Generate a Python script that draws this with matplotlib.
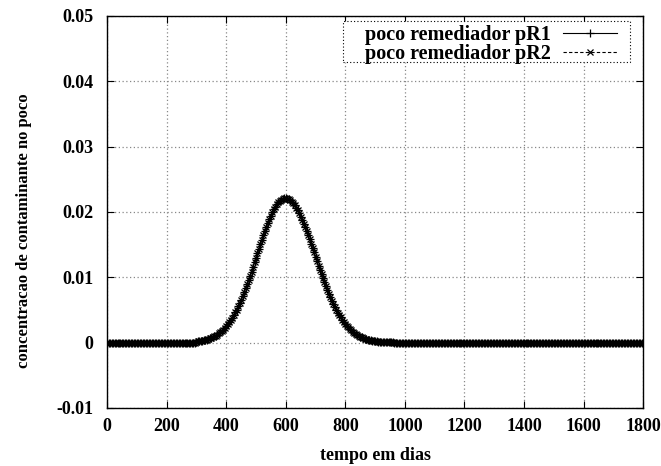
import numpy as np
import matplotlib
matplotlib.use("Agg")
import matplotlib.pyplot as plt
from matplotlib.patches import Rectangle
from matplotlib.ticker import FuncFormatter, MultipleLocator

plt.rcParams["font.family"] = ["Liberation Serif", "DejaVu Serif"]
plt.rcParams["font.weight"] = "bold"

# time axis in days, sampled every 5 days
tempo = np.arange(0, 1805, 5)

# concentration before the plume arrives (0..295 days)
antes = [0.0] * 60
# concentration while the plume passes the wells (300..965 days)
pulso = [
    0.00016, 0.00019, 0.00022, 0.00026, 0.00031, 0.00036, 0.00041, 0.00048,
    0.00055, 0.00064, 0.00073, 0.00084, 0.00096, 0.00109, 0.00124, 0.00141,
    0.00159, 0.00179, 0.00201, 0.00225, 0.00252, 0.00281, 0.00312, 0.00346,
    0.00382, 0.00421, 0.00463, 0.00507, 0.00554, 0.00604, 0.00657, 0.00712,
    0.00770, 0.00829, 0.00892, 0.00956, 0.01022, 0.01089, 0.01158, 0.01228,
    0.01298, 0.01369, 0.01439, 0.01509, 0.01577, 0.01645, 0.01711, 0.01774,
    0.01834, 0.01892, 0.01945, 0.01995, 0.02040, 0.02081, 0.02116, 0.02146,
    0.02171, 0.02189, 0.02202, 0.02209, 0.02210, 0.02205, 0.02194, 0.02178,
    0.02157, 0.02131, 0.02100, 0.02064, 0.02024, 0.01979, 0.01930, 0.01879,
    0.01823, 0.01766, 0.01705, 0.01643, 0.01579, 0.01514, 0.01448, 0.01381,
    0.01314, 0.01247, 0.01180, 0.01115, 0.01050, 0.00987, 0.00925, 0.00865,
    0.00807, 0.00750, 0.00696, 0.00644, 0.00595, 0.00548, 0.00503, 0.00461,
    0.00422, 0.00385, 0.00350, 0.00317, 0.00287, 0.00259, 0.00234, 0.00210,
    0.00188, 0.00168, 0.00150, 0.00133, 0.00118, 0.00105, 0.00092, 0.00081,
    0.00071, 0.00063, 0.00055, 0.00048, 0.00041, 0.00036, 0.00031, 0.00027,
    0.00023, 0.00020, 0.00017, 0.00014, 0.00012, 0.00010, 0.00009, 0.00007,
    0.00006, 0.00005, 0.00004, 0.00004, 0.00003, 0.00002,
]
# after the plume has passed (970..1800 days)
depois = [0.0] * (len(tempo) - len(antes) - len(pulso))

conc_pR1 = np.array(antes + pulso + depois)
conc_pR2 = np.array(antes + pulso + depois)

FS = 13

fig = plt.figure(figsize=(6.61, 4.66), dpi=100)
ax = fig.add_axes([0.162, 0.1245, 0.811, 0.8412])

ax.plot(tempo, conc_pR1, color="black", lw=0.8, ls="-", marker="+",
        ms=5.5, mew=0.9, label="poco remediador pR1")
ax.plot(tempo, conc_pR2, color="black", lw=0.8, ls=(0, (3, 2)), marker="x",
        ms=4.5, mew=0.9, label="poco remediador pR2")

ax.set_xlim(0, 1800)
ax.set_ylim(-0.01, 0.05)
ax.xaxis.set_major_locator(MultipleLocator(200))
ax.yaxis.set_major_locator(MultipleLocator(0.01))
ax.yaxis.set_major_formatter(FuncFormatter(lambda v, p: f"{round(v, 4):g}"))

ax.grid(True, color="#888888", ls=(0, (1, 2)), lw=0.9)
ax.tick_params(direction="in", top=True, right=True, length=5, width=0.8,
               labelsize=FS)
ax.tick_params(axis="x", pad=7)
ax.tick_params(axis="y", pad=10)
for lab in ax.get_xticklabels() + ax.get_yticklabels():
    lab.set_fontweight("bold")
for s in ax.spines.values():
    s.set_linewidth(1.0)

ax.set_xlabel("tempo em dias", fontsize=FS, fontweight="bold", labelpad=9)
ax.set_ylabel("concentracao de contaminante no poco", fontsize=12,
              fontweight="bold", va="center")
ax.yaxis.set_label_coords(-0.155, 0.4515)

# key, with its own dotted box
leg = ax.legend(loc="upper right", bbox_to_anchor=(0.9515, 0.978),
                markerfirst=False, frameon=False, handlelength=2.7,
                borderaxespad=0, borderpad=0, labelspacing=-0.05,
                handletextpad=0.6, prop={"weight": "bold", "size": 14.5})
ax.add_patch(Rectangle((0.440, 0.883), 0.536, 0.104, transform=ax.transAxes,
                       fill=True, facecolor="white", edgecolor="black",
                       lw=0.8, ls=(0, (1, 2)), zorder=4.5))
leg.set_zorder(5)

fig.savefig("out.png", dpi=100)
